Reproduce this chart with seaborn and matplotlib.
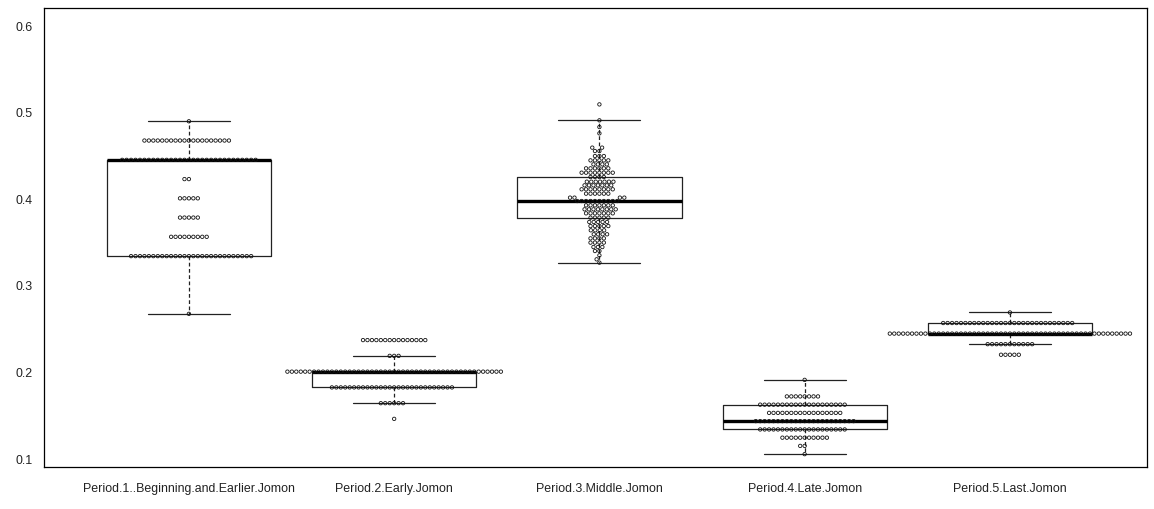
import numpy as np
import pandas as pd
import matplotlib
matplotlib.use("Agg")
import matplotlib.pyplot as plt
import seaborn as sns

# ---------------- data ----------------
categories = [
    "Period.1..Beginning.and.Earlier.Jomon",
    "Period.2.Early.Jomon",
    "Period.3.Middle.Jomon",
    "Period.4.Late.Jomon",
    "Period.5.Last.Jomon",
]

p1_values = [0.2667, 0.3333, 0.3556, 0.3778, 0.4000, 0.4222, 0.4444, 0.4667, 0.4889]
p1_counts = [1, 28, 9, 5, 5, 2, 31, 20, 1]

p2_values = [0.1455, 0.1636, 0.1818, 0.2000, 0.2182, 0.2364]
p2_counts = [1, 6, 28, 49, 3, 15]

p3_values = [0.3258, 0.3296, 0.3342, 0.3392, 0.3438, 0.3489, 0.3538, 0.3585, 0.3631,
             0.3680, 0.3727, 0.3777, 0.3827, 0.3873, 0.3919, 0.3969, 0.4008, 0.4054,
             0.4104, 0.4150, 0.4192, 0.4246, 0.4296, 0.4346, 0.4392, 0.4438, 0.4488,
             0.4546, 0.4585, 0.4750, 0.4823, 0.4900, 0.5084]
p3_counts = [1, 1, 1, 2, 3, 4, 4, 4, 4,
             5, 5, 5, 7, 8, 7, 10, 4, 6,
             8, 7, 7, 4, 8, 6, 4, 5, 3,
             2, 2, 1, 1, 1, 1]

p4_values = [0.1048, 0.1143, 0.1238, 0.1333, 0.1429, 0.1524, 0.1619, 0.1714, 0.1905]
p4_counts = [1, 2, 11, 20, 23, 17, 20, 8, 1]

p5_values = [0.2195, 0.2317, 0.2439, 0.2561, 0.2683]
p5_counts = [5, 11, 55, 30, 1]

y_ticks = [0.1, 0.2, 0.3, 0.4, 0.5, 0.6]

# ---------------- long table ----------------
groups = [(p1_values, p1_counts), (p2_values, p2_counts), (p3_values, p3_counts),
          (p4_values, p4_counts), (p5_values, p5_counts)]
frames = []
for cat, (vals, cnts) in zip(categories, groups):
    frames.append(pd.DataFrame({"period": cat, "value": np.repeat(vals, cnts)}))
df = pd.concat(frames, ignore_index=True)

# let swarm rows extend freely (like R beeswarm) instead of being squeezed into gutters
sns.categorical.Beeswarm.add_gutters = lambda self, points, *args, **kwargs: points

sns.set_style("white")
plt.rcParams["font.family"] = ["Liberation Sans", "DejaVu Sans"]

fig = plt.figure(figsize=(11.54, 5.10), dpi=100)
W, H = 1154, 510
left, right, top, bottom = 44, 1147, 9.3, 467.7
ax = fig.add_axes([left / W, (H - bottom) / H, (right - left) / W, (bottom - top) / H])

sns.swarmplot(data=df, x="period", y="value", order=categories, ax=ax,
              size=2.45, linewidth=0.6, color="white", edgecolor="black")
for coll in ax.collections:
    coll.set_facecolor("none")
    coll.set_edgecolor("#111111")

sns.boxplot(data=df, x="period", y="value", order=categories, ax=ax,
            fill=False, color="black", width=0.8, showfliers=False, whis=1.5,
            linewidth=0.9,
            boxprops=dict(color="#222222", linewidth=0.9),
            whiskerprops=dict(color="#222222", linestyle=(0, (3, 2)), linewidth=0.9),
            capprops=dict(color="#222222", linewidth=0.9),
            medianprops=dict(color="black", linewidth=2.4))

ax.set_xlim(-0.706, -0.706 + (right - left) / 205.25)
ax.set_ylim(0.0903, 0.6193)
ax.set_yticks(y_ticks)
ax.set_yticklabels([f"{t:.1f}" for t in y_ticks])
ax.set_xlabel("")
ax.set_ylabel("")

for s in ax.spines.values():
    s.set_visible(True)
    s.set_color("black")
    s.set_linewidth(0.9)

ax.tick_params(axis="both", direction="out", length=5, width=0.8, color="#333333",
               labelsize=8.9, labelcolor="#222222", pad=3)
ax.tick_params(axis="x", pad=6)

fig.savefig("out.png", dpi=100)
